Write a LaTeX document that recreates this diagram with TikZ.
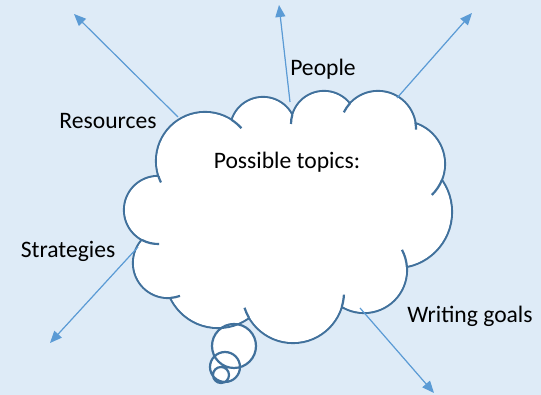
\documentclass[tikz,border=0pt]{standalone}
\usepackage{fontspec}
\setmainfont{Carlito}
\usetikzlibrary{arrows.meta}

\definecolor{bgblue}{HTML}{DEEBF7}
\definecolor{cloudblue}{HTML}{41719C}
\definecolor{rayblue}{HTML}{5B9BD5}

\tikzset{
  cloudline/.style={draw=cloudblue, line width=1.1pt},
  ray/.style={draw=rayblue, fill=rayblue, line width=0.6pt, -{Triangle[length=6pt, width=5pt]}},
  lbl/.style={anchor=base, inner sep=0pt, font=\fontsize{11.8}{14}\selectfont},
}

\begin{document}
\begin{tikzpicture}[x=0.5pt, y=0.5pt]
  \useasboundingbox (0,0) rectangle (541,395);
  \fill[bgblue] (0,0) rectangle (541,395);

  % bumps of the cloud
  \coordinate (a) at (205,234);
  \coordinate (b) at (263,265);
  \coordinate (c) at (324,271);
  \coordinate (d) at (378,266);
  \coordinate (e) at (402,231);
  \coordinate (f) at (396,183);
  \coordinate (g) at (364,125);
  \coordinate (h) at (293,103);
  \coordinate (i) at (218,120);
  \coordinate (j) at (168,132);
  \coordinate (k) at (158,185);
  % thought bubbles
  \coordinate (b1) at (234,49);
  \coordinate (b2) at (225,28);
  \coordinate (b3) at (221,20);

  \fill[white] (b1) circle[radius=22] (b2) circle[radius=15] (b3) circle[radius=8];

  \draw[cloudline]
  (a) circle[radius=49] (b) circle[radius=33] (c) circle[radius=33]
  (d) circle[radius=38] (e) circle[radius=43] (f) circle[radius=56]
  (g) circle[radius=43] (h) circle[radius=51] (i) circle[radius=53]
  (j) circle[radius=35] (k) circle[radius=34];

  \fill[white]
  (a) circle[radius=48] (b) circle[radius=32] (c) circle[radius=32]
  (d) circle[radius=37] (e) circle[radius=42] (f) circle[radius=55]
  (g) circle[radius=42] (h) circle[radius=50] (i) circle[radius=52]
  (j) circle[radius=34] (k) circle[radius=33];
  \fill[white] (a) -- (b) -- (c) -- (d) -- (e) -- (f) -- (g) -- (h) -- (i) -- (j) -- (k) -- cycle;

  % inner ticks
  \draw[cloudline]
  (a) ++(57:49) arc[start angle=57, end angle=42, radius=49]
  (a) ++(198:49) arc[start angle=198, end angle=206, radius=49]
  (c) ++(164:33) arc[start angle=164, end angle=180, radius=33]
  (d) ++(138:38) arc[start angle=138, end angle=154, radius=38]
  (d) ++(9:38) arc[start angle=9, end angle=-1, radius=38]
  (e) ++(-22:43) arc[start angle=-22, end angle=-46, radius=43]
  (g) ++(4:43) arc[start angle=4, end angle=28, radius=43]
  (h) ++(-17:51) arc[start angle=-17, end angle=-3, radius=51]
  (h) ++(210:51) arc[start angle=210, end angle=198, radius=51]
  (j) ++(-86:35) arc[start angle=-86, end angle=-70, radius=35]
  (k) ++(242:34) arc[start angle=242, end angle=272, radius=34];

  \draw[cloudline] (b1) circle[radius=22] (b2) circle[radius=15] (b3) circle[radius=8];

  % rays
  \coordinate (res0) at (178,278);
  \coordinate (res1) at (74,381);
  \coordinate (ppl0) at (290,293);
  \coordinate (ppl1) at (279,390);
  \coordinate (ur0) at (397,297);
  \coordinate (ur1) at (472,382);
  \coordinate (str0) at (138,148);
  \coordinate (str1) at (50,52);
  \coordinate (wri0) at (360,87);
  \coordinate (wri1) at (434,2);

  \draw[ray] (res0) -- (res1);
  \draw[ray] (ppl0) -- (ppl1);
  \draw[ray] (ur0) -- (ur1);
  \draw[ray] (str0) -- (str1);
  \draw[ray] (wri0) -- (wri1);

  \node[lbl] (res) at (108,266) {Resources};
  \node[lbl] (ppl) at (323,319) {People};
  \node[lbl] (top) at (287,226) {Possible topics:};
  \node[lbl] (str) at (68,137) {Strategies};
  \node[lbl] (wri) at (470,72) {Writing goals};
\end{tikzpicture}
\end{document}
